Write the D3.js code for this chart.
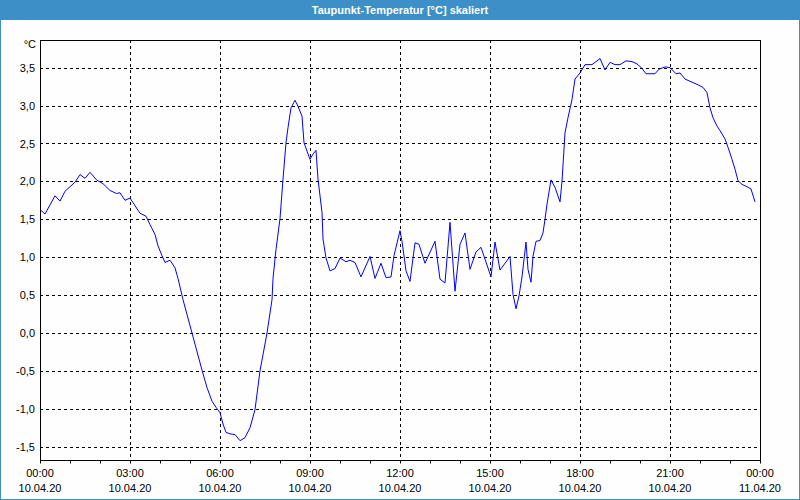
<!DOCTYPE html>
<html><head><meta charset="utf-8">
<script src="https://cdn.jsdelivr.net/npm/d3@7"></script>
<style>
html,body{margin:0;padding:0;background:#fff;}
svg{display:block;}
text{font-family:"Liberation Sans",Arial,sans-serif;}
</style></head>
<body>
<svg id="c" width="800" height="500"></svg>
<script>
const title = "Taupunkt-Temperatur [°C] skaliert";
const unitLabel = "°C";
// minutes since 10.04.20 00:00
const minutes = [0,10,30,40,50,70,80,90,100,113,126,140,153,160,170,180,186,200,212,220,230,236,244,250,260,270,276,286,304,324,334,344,352,360,366,372,380,390,400,410,420,430,440,454,464,466,472,480,486,492,496,502,510,516,524,528,534,540,546,552,556,564,566,572,580,590,600,612,620,630,642,660,670,682,692,702,708,720,724,732,740,750,758,770,790,800,810,820,830,840,850,860,872,882,902,910,920,940,946,952,958,964,972,976,982,986,992,1000,1006,1010,1014,1022,1030,1040,1044,1050,1056,1064,1070,1080,1090,1104,1120,1130,1140,1150,1160,1172,1184,1194,1204,1212,1230,1238,1250,1260,1272,1280,1290,1300,1314,1326,1334,1340,1346,1354,1360,1370,1376,1384,1390,1396,1404,1414,1422,1430];
const values = [1.63,1.57,1.81,1.74,1.87,1.99,2.09,2.04,2.12,2.02,1.97,1.88,1.84,1.85,1.75,1.78,1.72,1.58,1.54,1.43,1.30,1.15,1.02,0.93,0.96,0.86,0.72,0.44,0.0,-0.49,-0.72,-0.90,-0.98,-1.05,-1.20,-1.31,-1.33,-1.34,-1.42,-1.38,-1.25,-1.01,-0.50,0.0,0.44,0.72,1.10,1.51,2.03,2.51,2.71,2.97,3.07,2.99,2.86,2.51,2.40,2.29,2.36,2.41,2.03,1.59,1.24,0.99,0.82,0.85,0.99,0.94,0.96,0.93,0.74,1.01,0.72,0.92,0.73,0.74,1.02,1.35,1.21,0.82,0.68,1.19,1.17,0.92,1.21,0.71,0.66,1.46,0.55,1.17,1.32,0.84,1.07,1.13,0.74,1.20,0.83,1.01,0.51,0.32,0.49,0.74,1.20,0.84,0.67,1.01,1.21,1.22,1.32,1.50,1.70,2.02,1.92,1.73,2.00,2.64,2.84,3.08,3.35,3.43,3.54,3.54,3.62,3.47,3.57,3.54,3.54,3.59,3.58,3.55,3.49,3.42,3.42,3.48,3.51,3.50,3.42,3.43,3.35,3.32,3.28,3.24,3.17,2.97,2.84,2.73,2.67,2.56,2.45,2.29,2.16,2.01,1.96,1.93,1.90,1.73];
const yTicks = [-1.5,-1.0,-0.5,0.0,0.5,1.0,1.5,2.0,2.5,3.0,3.5];
const xTickMinutes = [0,180,360,540,720,900,1080,1260,1440];
const xTickTimes = ["00:00","03:00","06:00","09:00","12:00","15:00","18:00","21:00","00:00"];
const xTickDates = ["10.04.20","10.04.20","10.04.20","10.04.20","10.04.20","10.04.20","10.04.20","10.04.20","11.04.20"];
const minorTickMinutes = d3.range(0,1441,60);

const svg = d3.select("#c");
const W=800,H=500;
const L=40,R=760,T=40,B=460;
const blue="#3c8fc7";

// frame
svg.append("rect").attr("x",0).attr("y",0).attr("width",W).attr("height",H).attr("fill","#fdfefd");
svg.append("rect").attr("x",0).attr("y",0).attr("width",W).attr("height",20).attr("fill",blue);
svg.append("rect").attr("x",0.5).attr("y",0.5).attr("width",W-1).attr("height",H-1).attr("fill","none").attr("stroke",blue);
svg.append("text").attr("x",W/2).attr("y",14).attr("text-anchor","middle")
  .attr("fill","#fff").attr("font-weight","bold").attr("font-size","11px").text(title);

const x = d3.scaleLinear().domain([0,1440]).range([L,R]);
const y = d3.scaleLinear().domain([-1.675,3.865]).range([B,T]);

// grid
const g = svg.append("g");
g.selectAll(".hg").data(yTicks).join("line")
  .attr("x1",L).attr("x2",R).attr("y1",d=>Math.round(y(d))+0.5).attr("y2",d=>Math.round(y(d))+0.5)
  .attr("stroke","#000").attr("stroke-dasharray","3,3");
g.selectAll(".vg").data(xTickMinutes.slice(1,-1)).join("line")
  .attr("y1",T).attr("y2",B).attr("x1",d=>Math.round(x(d))+0.5).attr("x2",d=>Math.round(x(d))+0.5)
  .attr("stroke","#000").attr("stroke-dasharray","3,3");

// data line
svg.append("path").datum(minutes.map((m,i)=>[m,values[i]]))
  .attr("fill","none").attr("stroke","#0000ff").attr("stroke-width",1)
  .attr("d",d3.line().x(d=>x(d[0])).y(d=>y(d[1])));

// plot border
svg.append("rect").attr("x",L+0.5).attr("y",T+0.5).attr("width",R-L).attr("height",B-T)
  .attr("fill","none").attr("stroke","#000");

// y axis labels
const yAxis = d3.axisLeft(y).tickValues(yTicks).tickSize(0).tickPadding(5)
  .tickFormat(d=>d3.format(".1f")(d).replace(".",",").replace("−","-"));
const ya = svg.append("g").attr("transform",`translate(${L},0)`).call(yAxis);
ya.select(".domain").remove();
ya.selectAll("text").attr("font-family","Liberation Sans, Arial, sans-serif").attr("font-size","11px").attr("fill","#000");
svg.append("text").attr("x",L-4).attr("y",T+8).attr("text-anchor","end").attr("font-size","11px").attr("fill","#000").text(unitLabel);

// x axis minor ticks
const xAxis = d3.axisBottom(x).tickValues(minorTickMinutes).tickSize(3).tickFormat("");
const xa = svg.append("g").attr("transform",`translate(0,${B+0.5})`).call(xAxis);
xa.select(".domain").remove();
xa.selectAll("line").attr("stroke","#000");

const lab = svg.append("g");
lab.selectAll(".t1").data(xTickMinutes).join("text")
  .attr("x",d=>x(d)).attr("y",477).attr("text-anchor","middle").attr("font-size","11px").attr("fill","#000")
  .text((d,i)=>xTickTimes[i]);
lab.selectAll(".t2").data(xTickMinutes).join("text")
  .attr("x",d=>x(d)).attr("y",492).attr("text-anchor","middle").attr("font-size","11px").attr("fill","#000")
  .text((d,i)=>xTickDates[i]);
</script>
</body></html>
